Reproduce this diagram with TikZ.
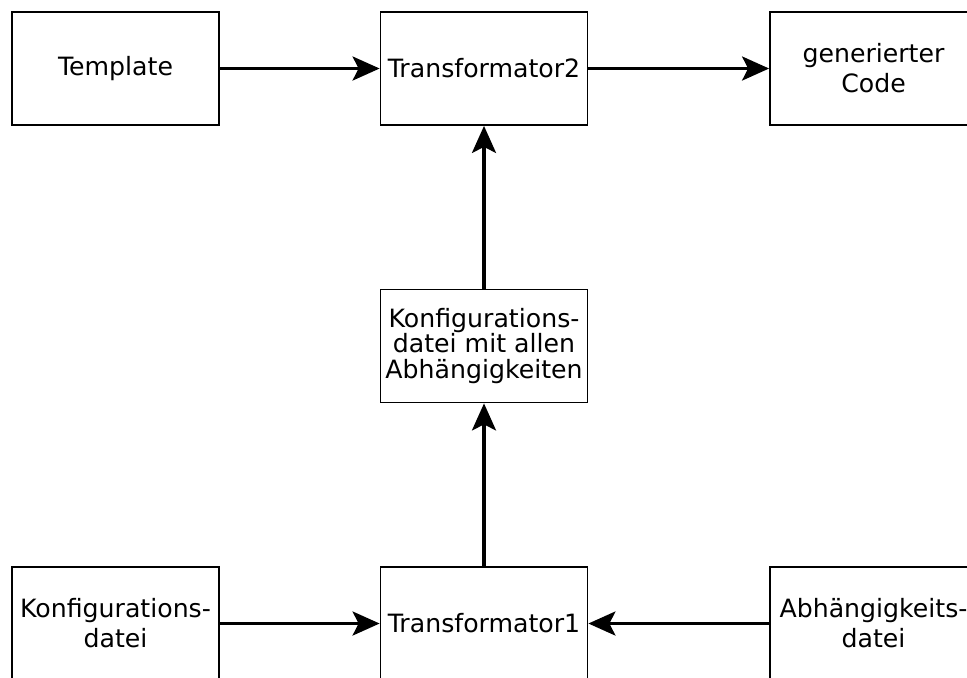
\documentclass[tikz,border=0pt]{standalone}
\usepackage{fontspec}
\setmainfont{DejaVu Sans}
\usetikzlibrary{arrows.meta}
\begin{document}
\begin{tikzpicture}[x=.5pt, y=-.5pt,
    box/.style={draw, line width=.9pt, minimum width=103.5pt, minimum height=56.5pt,
        inner sep=0pt, align=center, font=\fontsize{12.6}{15}\selectfont},
    flow/.style={line width=1.6pt, -{Stealth[length=13.5pt, width=12pt, inset=3pt]}}]
            \useasboundingbox (0,0) rectangle (967,677);
            \node [box] (template) at (115.5,68.5) {Template};
            \node [box] (trafo2) at (484,68.5) {Transformator2};
            \node [box] (code) at (873.5,68.5) {generierter\\Code};
            \node [box, font=\fontsize{12.6}{12.75}\selectfont] (alle) at (484,346) {Konfigurations-\\datei mit allen\\Abhängigkeiten};
            \node [box] (konf) at (115.5,623.5) {Konfigurations-\\datei};
            \node [box] (trafo1) at (484,623.5) {Transformator1};
            \node [box] (abh) at (873.5,623.5) {Abhängigkeits-\\datei};
            \draw [flow] (template) -- (trafo2);
            \draw [flow] (trafo2) -- (code);
            \draw [flow] (konf) -- (trafo1);
            \draw [flow] (abh) -- (trafo1);
            \draw [flow] (trafo1) -- (alle);
            \draw [flow] (alle) -- (trafo2);
        \end{tikzpicture}
\end{document}
